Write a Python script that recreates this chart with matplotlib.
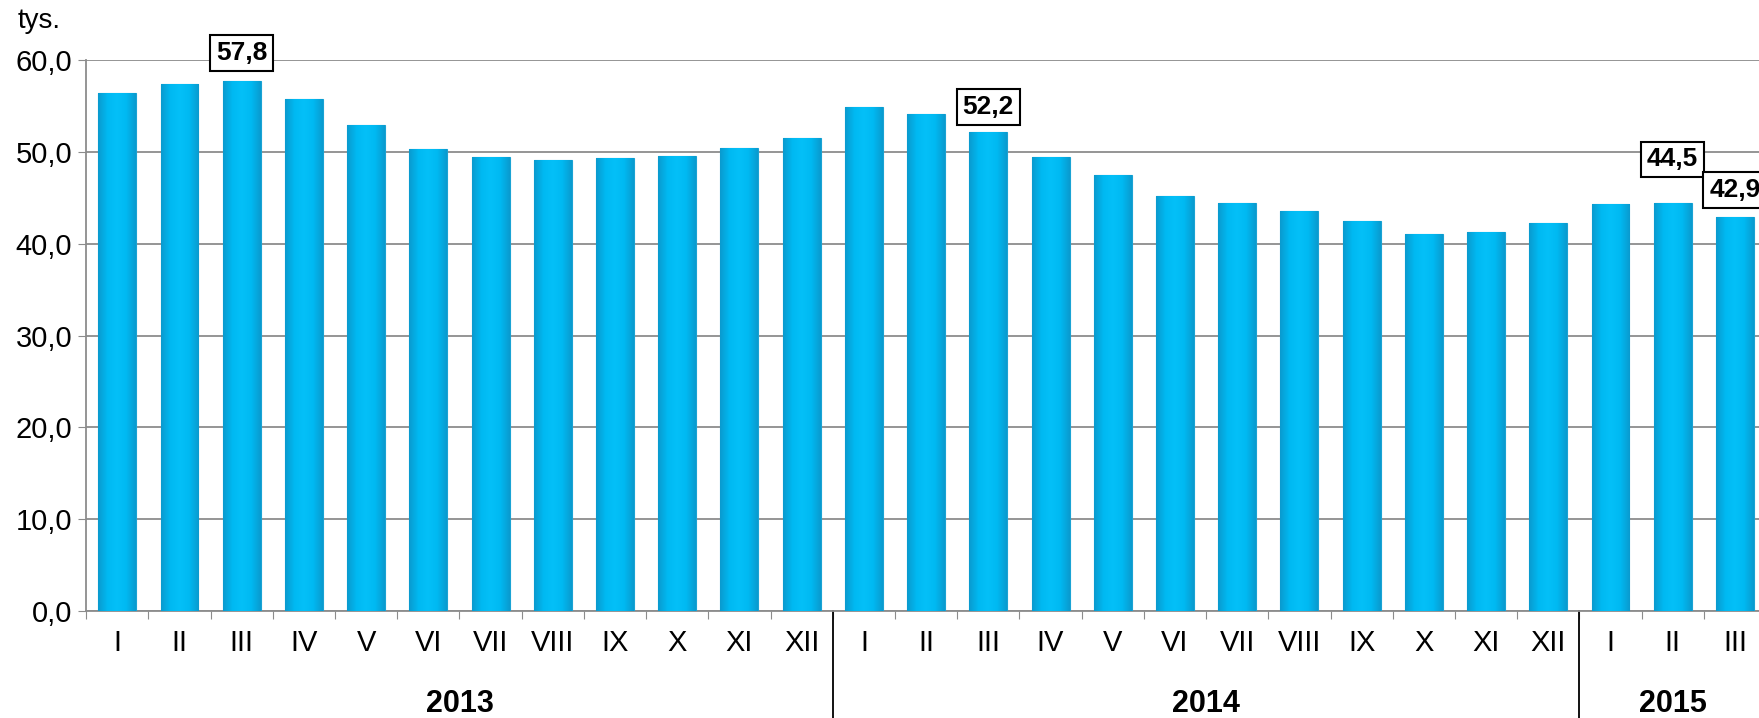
import numpy as np
import matplotlib.pyplot as plt
from matplotlib.colors import LinearSegmentedColormap

# data (thousands) - monthly values 2013 I .. 2015 III
months = ["I", "II", "III", "IV", "V", "VI", "VII", "VIII", "IX", "X", "XI", "XII"]
labels = months + months + months[:3]
years = ["2013", "2014", "2015"]
year_len = [12, 12, 3]
values = [56.4, 57.4, 57.8, 55.8, 52.9, 50.3, 49.5, 49.1, 49.4, 49.6, 50.4, 51.5,
          54.9, 54.2, 52.2, 49.5, 47.5, 45.2, 44.4, 43.6, 42.5, 41.1, 41.3, 42.3,
          44.3, 44.5, 42.9]
annotated = {2: 57.8, 14: 52.2, 25: 44.5, 26: 42.9}
label_lift = {2: 3.0, 14: 2.7, 25: 4.7, 26: 3.0}

plt.rcParams['font.family'] = ['Liberation Sans', 'DejaVu Sans']

fig = plt.figure(figsize=(17.59, 7.18), dpi=100)
ax = fig.add_axes([0.049, 0.149, 0.955, 0.767])

x = np.arange(len(values)) + 0.5
bars = ax.bar(x, values, width=0.61, color='#00BAF2', edgecolor='#1AA3D4',
              linewidth=0.8, zorder=3)

# horizontal shading inside each bar
cmap = LinearSegmentedColormap.from_list(
    'bar', ['#0A9BCF', '#00B9F2', '#04C0F8', '#00B9F2', '#0A9BCF'])
grad = np.linspace(0, 1, 64).reshape(1, -1)
for b in bars:
    x0, y0 = b.get_x(), b.get_y()
    im = ax.imshow(grad, cmap=cmap, aspect='auto', zorder=3.5,
                   extent=(x0, x0 + b.get_width(), y0, y0 + b.get_height()))
    im.set_clip_path(b)

ax.set_xlim(0, len(values))
ax.set_ylim(0, 60)
ax.set_yticks(np.arange(0, 61, 10))
ax.set_yticklabels([f"{v:.1f}".replace('.', ',') for v in np.arange(0, 61, 10)],
                   fontsize=21)
ax.yaxis.grid(True, color='#8C8C8C', linewidth=1.3, zorder=0)
ax.set_axisbelow(True)
for s in ['top', 'right']:
    ax.spines[s].set_visible(False)
for s in ['left', 'bottom']:
    ax.spines[s].set_color('#8C8C8C')
    ax.spines[s].set_linewidth(1.3)
ax.tick_params(axis='y', length=6, color='#8C8C8C', pad=4)

# category boundaries as ticks, month labels as minor labels
ax.set_xticks(np.arange(0, len(values) + 1))
ax.set_xticklabels([])
ax.tick_params(axis='x', which='major', length=6, color='#8C8C8C')
ax.set_xticks(x, minor=True)
ax.set_xticklabels(labels, minor=True, fontsize=21)
ax.tick_params(axis='x', which='minor', length=0, pad=13)

# year labels and separators
trans = ax.get_xaxis_transform()
start = 0
for yr, n in zip(years, year_len):
    ax.text(start + n / 2, -0.168, yr, transform=trans, ha='center', va='center',
            fontsize=22, fontweight='bold')
    if start > 0:
        ax.plot([start, start], [0, -0.2], transform=trans, color='black',
                linewidth=1.3, clip_on=False)
    start += n

for i, v in annotated.items():
    ax.text(x[i], values[i] + label_lift[i], f"{v:.1f}".replace('.', ','),
            ha='center', va='center', fontsize=19, fontweight='bold', zorder=5,
            bbox=dict(boxstyle='square,pad=0.22', fc='white', ec='black', lw=1.5))

fig.text(0.010, 0.971, "tys.", fontsize=20, ha='left', va='center')

fig.savefig("out.png", dpi=100)
